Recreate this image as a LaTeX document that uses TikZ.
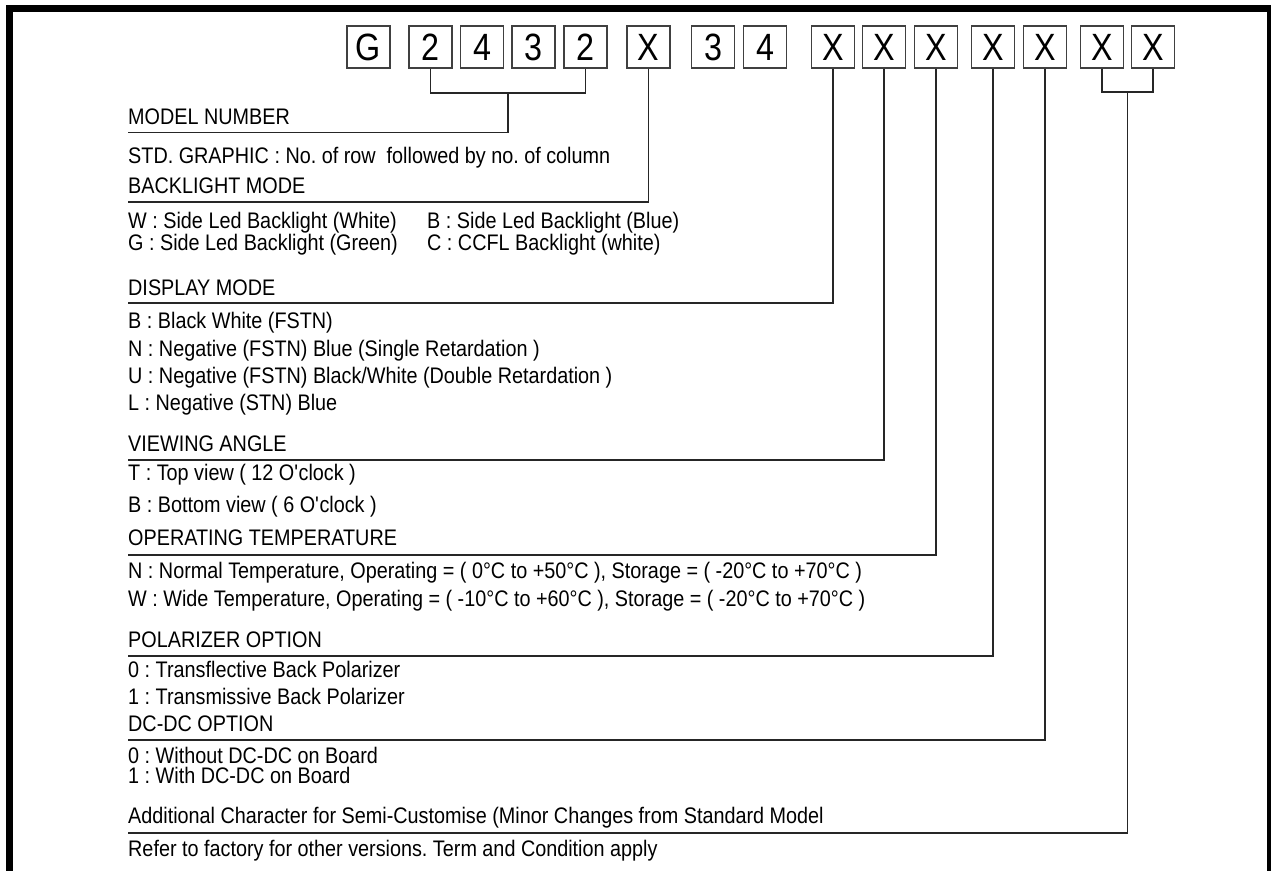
\documentclass[tikz,border=0pt]{standalone}
\usepackage{fontspec}
\setmainfont{Liberation Sans}[FakeStretch=0.88]
\newfontfamily\boxfont{Liberation Sans}[FakeStretch=0.85]
\frenchspacing
\begin{document}
\begin{tikzpicture}[x=1pt,y=-1pt,
  digit/.style={draw=black!75, line width=1.1pt, minimum width=43pt, minimum height=42pt, inner sep=0pt, font=\boxfont\fontsize{38}{38}\selectfont},
  lbl/.style={anchor=base west, inner sep=0pt, font=\fontsize{22.5}{23}\selectfont},
  conn/.style={draw=black!85, line width=1.1pt}]
\useasboundingbox (0,0) rectangle (1271,870);
\draw[line width=7pt] (9.5,8) rectangle (1270.5,910);
% code boxes
\foreach \n/\x/\t in {b1/368.5/G, b2/430.5/2, b3/482/4, b4/533.5/3, b5/585.5/2,
  b6/648.5/X, b7/713/3, b8/765/4, b9/833/X, b10/884/X, b11/936/X, b12/993/X,
  b13/1045/X, b14/1102/X, b15/1153/X}
  \node[digit] (\n) at (\x,47) {\t};
% texts
\node[lbl] (t1) at (128,124) {MODEL NUMBER};
\node[lbl] (t2) at (128,163) {STD. GRAPHIC : No. of row\ \ followed by no. of column};
\node[lbl] (t3) at (128,193) {BACKLIGHT MODE};
\node[lbl] (t4) at (128,228) {W : Side Led Backlight (White)};
\node[lbl] (t5) at (427,228) {B : Side Led Backlight (Blue)};
\node[lbl] (t6) at (128,250) {G : Side Led Backlight (Green)};
\node[lbl] (t7) at (427,250) {C : CCFL Backlight (white)};
\node[lbl] (t8) at (128,295) {DISPLAY MODE};
\node[lbl] (t9) at (128,328) {B : Black White (FSTN)};
\node[lbl] (t10) at (128,356) {N : Negative (FSTN) Blue (Single Retardation )};
\node[lbl] (t11) at (128,383) {U : Negative (FSTN) Black/White (Double Retardation )};
\node[lbl] (t12) at (128,410) {L : Negative (STN) Blue};
\node[lbl] (t13) at (128,451) {VIEWING ANGLE};
\node[lbl] (t14) at (128,480) {T : Top view ( 12 O\textquotesingle clock )};
\node[lbl] (t15) at (128,512) {B : Bottom view ( 6 O\textquotesingle clock )};
\node[lbl] (t16) at (128,545) {OPERATING TEMPERATURE};
\node[lbl] (t17) at (128,578) {N : Normal Temperature, Operating = ( 0°C to +50°C ), Storage = ( -20°C to +70°C )};
\node[lbl] (t18) at (128,606) {W : Wide Temperature, Operating = ( -10°C to +60°C ), Storage = ( -20°C to +70°C )};
\node[lbl] (t19) at (128,647) {POLARIZER OPTION};
\node[lbl] (t20) at (128,677) {0 : Transflective Back Polarizer};
\node[lbl] (t21) at (128,704) {1 : Transmissive Back Polarizer};
\node[lbl] (t22) at (128,731) {DC-DC OPTION};
\node[lbl] (t23) at (128,763) {0 : Without DC-DC on Board};
\node[lbl] (t24) at (128,783) {1 : With DC-DC on Board};
\node[lbl] (t25) at (128,823) {Additional Character for Semi-Customise (Minor Changes from Standard Model};
\node[lbl] (t26) at (128,856) {Refer to factory for other versions. Term and Condition apply};
% line ends
\coordinate (jm) at (508,93);
\coordinate (jx) at (1127.5,92);
\coordinate (lm) at (128,132.5);
\coordinate (lb) at (128,202);
\coordinate (ld) at (128,303);
\coordinate (lv) at (128,460);
\coordinate (lo) at (128,555);
\coordinate (lp) at (128,656);
\coordinate (lc) at (128,740);
\coordinate (la) at (128,833);
% connectors
\draw[conn] (b2.south) |- (jm) -| (b5.south);
\draw[conn] (jm) |- (lm);
\draw[conn] (b6.south) |- (lb);
\draw[conn] (b9.south) |- (ld);
\draw[conn] (b10.south) |- (lv);
\draw[conn] (b11.south) |- (lo);
\draw[conn] (b12.south) |- (lp);
\draw[conn] (b13.south) |- (lc);
\draw[conn] (b14.south) |- (jx) -| (b15.south);
\draw[conn] (jx) |- (la);
\end{tikzpicture}
\end{document}
